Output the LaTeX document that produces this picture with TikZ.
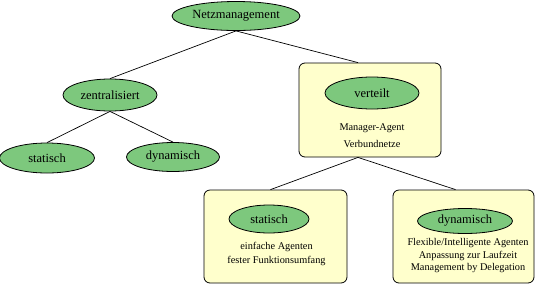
\documentclass[tikz,border=0pt]{standalone}
\usepackage{fontspec}
\setmainfont{Liberation Serif}
\usetikzlibrary{shapes.geometric}
\definecolor{egreen}{RGB}{125,200,125}
\definecolor{byellow}{RGB}{255,255,204}
\begin{document}
\begin{tikzpicture}[x=1pt,y=-1pt,
  ell/.style={ellipse, draw=black, fill=egreen, line width=0.8pt, inner sep=0pt, font=\fontsize{12.5}{14}\selectfont},
  box/.style={draw=black, fill=byellow, rounded corners=6pt, line width=0.8pt, inner sep=0pt},
  txt/.style={align=center, inner sep=0pt},
  conn/.style={draw=black, line width=0.7pt}]
\useasboundingbox (0,0) rectangle (536,285);
% boxes
\node[box, minimum width=142pt, minimum height=94pt] (B1) at (370,110) {};
\node[box, minimum width=143pt, minimum height=93pt] (B2) at (275.5,236.5) {};
\node[box, minimum width=141pt, minimum height=93pt] (B3) at (463.5,236.5) {};
% ellipses
\node[ell, minimum width=128pt, minimum height=29pt] (N) at (236,16) {Netzmanagement};
\node[ell, minimum width=94pt, minimum height=32pt] (Z) at (110,95) {zentralisiert};
\node[ell, minimum width=95pt, minimum height=30pt] (S1) at (47,158) {statisch};
\node[ell, minimum width=93pt, minimum height=29pt] (D1) at (173,157) {dynamisch};
\node[ell, minimum width=94pt, minimum height=32pt] (V) at (372,93) {verteilt};
\node[ell, minimum width=80pt, minimum height=28pt] (S2) at (269,219) {statisch};
\node[ell, minimum width=95pt, minimum height=25pt] (D2) at (465,221) {dynamisch};
% texts
\node[txt, font=\fontsize{10.3}{17}\selectfont] (T1) at (372,135.5) {Manager-Agent\\Verbundnetze};
\node[txt, font=\fontsize{10.3}{14}\selectfont] (T2) at (276.5,254) {einfache Agenten\\fester Funktionsumfang};
\node[txt, font=\fontsize{10.3}{12.5}\selectfont] (T3) at (468,256) {Flexible/Intelligente Agenten\\Anpassung zur Laufzeit\\Management by Delegation};
% connectors
\draw[conn] (N.south) -- (Z.north);
\draw[conn] (N.south) -- ([xshift=-12pt]B1.north);
\draw[conn] (Z.south) -- (S1.north);
\draw[conn] (Z.south) -- (D1.north);
\draw[conn] ([xshift=-12pt]B1.south) -- ([xshift=-5pt]B2.north);
\draw[conn] ([xshift=-12pt]B1.south) -- ([xshift=-8pt]B3.north);
\end{tikzpicture}
\end{document}
